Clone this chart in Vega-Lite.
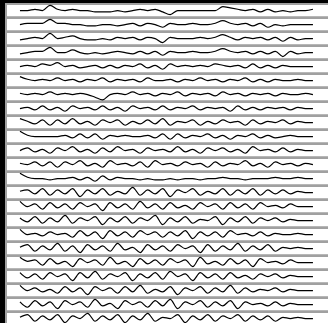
{
"$schema": "https://vega.github.io/schema/vega-lite/v6.json",
"background": "black",
"padding": {"left": 5, "top": 3, "right": 0, "bottom": 0},
"bounds": "flush",
"datasets": {"d": [
{"s":1,"t":0,"v":5},{"s":1,"t":1,"v":5},{"s":1,"t":2,"v":6},{"s":1,"t":3,"v":5},{"s":1,"t":4,"v":9},{"s":1,"t":5,"v":6},{"s":1,"t":6,"v":5},{"s":1,"t":7,"v":6},{"s":1,"t":8,"v":5},{"s":1,"t":9,"v":5},{"s":1,"t":10,"v":4},{"s":1,"t":11,"v":4},{"s":1,"t":12,"v":4},{"s":1,"t":13,"v":5},{"s":1,"t":14,"v":4},{"s":1,"t":15,"v":5},{"s":1,"t":16,"v":6},{"s":1,"t":17,"v":5},{"s":1,"t":18,"v":6},{"s":1,"t":19,"v":4},{"s":1,"t":20,"v":2},{"s":1,"t":21,"v":5},{"s":1,"t":22,"v":5},{"s":1,"t":23,"v":5},{"s":1,"t":24,"v":5},{"s":1,"t":25,"v":5},{"s":1,"t":26,"v":5},{"s":1,"t":27,"v":8},{"s":1,"t":28,"v":7},{"s":1,"t":29,"v":6},{"s":1,"t":30,"v":5},{"s":1,"t":31,"v":6},{"s":1,"t":32,"v":4},{"s":1,"t":33,"v":6},{"s":1,"t":34,"v":4},{"s":1,"t":35,"v":5},{"s":1,"t":36,"v":4},{"s":1,"t":37,"v":5},{"s":1,"t":38,"v":5},{"s":1,"t":39,"v":6},
{"s":2,"t":0,"v":5},{"s":2,"t":1,"v":6},{"s":2,"t":2,"v":6},{"s":2,"t":3,"v":6},{"s":2,"t":4,"v":9},{"s":2,"t":5,"v":6},{"s":2,"t":6,"v":6},{"s":2,"t":7,"v":5},{"s":2,"t":8,"v":5},{"s":2,"t":9,"v":4},{"s":2,"t":10,"v":4},{"s":2,"t":11,"v":5},{"s":2,"t":12,"v":5},{"s":2,"t":13,"v":4},{"s":2,"t":14,"v":5},{"s":2,"t":15,"v":6},{"s":2,"t":16,"v":4},{"s":2,"t":17,"v":6},{"s":2,"t":18,"v":5},{"s":2,"t":19,"v":3},{"s":2,"t":20,"v":6},{"s":2,"t":21,"v":5},{"s":2,"t":22,"v":5},{"s":2,"t":23,"v":6},{"s":2,"t":24,"v":5},{"s":2,"t":25,"v":5},{"s":2,"t":26,"v":6},{"s":2,"t":27,"v":8},{"s":2,"t":28,"v":6},{"s":2,"t":29,"v":5},{"s":2,"t":30,"v":6},{"s":2,"t":31,"v":4},{"s":2,"t":32,"v":6},{"s":2,"t":33,"v":3},{"s":2,"t":34,"v":5},{"s":2,"t":35,"v":4},{"s":2,"t":36,"v":5},{"s":2,"t":37,"v":5},{"s":2,"t":38,"v":5},{"s":2,"t":39,"v":5},
{"s":3,"t":0,"v":4},{"s":3,"t":1,"v":5},{"s":3,"t":2,"v":6},{"s":3,"t":3,"v":5},{"s":3,"t":4,"v":9},{"s":3,"t":5,"v":5},{"s":3,"t":6,"v":6},{"s":3,"t":7,"v":7},{"s":3,"t":8,"v":5},{"s":3,"t":9,"v":4},{"s":3,"t":10,"v":4},{"s":3,"t":11,"v":5},{"s":3,"t":12,"v":4},{"s":3,"t":13,"v":6},{"s":3,"t":14,"v":5},{"s":3,"t":15,"v":6},{"s":3,"t":16,"v":4},{"s":3,"t":17,"v":6},{"s":3,"t":18,"v":5},{"s":3,"t":19,"v":2},{"s":3,"t":20,"v":6},{"s":3,"t":21,"v":5},{"s":3,"t":22,"v":5},{"s":3,"t":23,"v":5},{"s":3,"t":24,"v":6},{"s":3,"t":25,"v":5},{"s":3,"t":26,"v":6},{"s":3,"t":27,"v":8},{"s":3,"t":28,"v":6},{"s":3,"t":29,"v":4},{"s":3,"t":30,"v":6},{"s":3,"t":31,"v":5},{"s":3,"t":32,"v":6},{"s":3,"t":33,"v":4},{"s":3,"t":34,"v":6},{"s":3,"t":35,"v":3},{"s":3,"t":36,"v":6},{"s":3,"t":37,"v":4},{"s":3,"t":38,"v":5},{"s":3,"t":39,"v":5},
{"s":4,"t":0,"v":4},{"s":4,"t":1,"v":5},{"s":4,"t":2,"v":6},{"s":4,"t":3,"v":6},{"s":4,"t":4,"v":9},{"s":4,"t":5,"v":5},{"s":4,"t":6,"v":5},{"s":4,"t":7,"v":7},{"s":4,"t":8,"v":5},{"s":4,"t":9,"v":4},{"s":4,"t":10,"v":5},{"s":4,"t":11,"v":4},{"s":4,"t":12,"v":5},{"s":4,"t":13,"v":6},{"s":4,"t":14,"v":5},{"s":4,"t":15,"v":4},{"s":4,"t":16,"v":6},{"s":4,"t":17,"v":4},{"s":4,"t":18,"v":6},{"s":4,"t":19,"v":3},{"s":4,"t":20,"v":6},{"s":4,"t":21,"v":5},{"s":4,"t":22,"v":5},{"s":4,"t":23,"v":6},{"s":4,"t":24,"v":5},{"s":4,"t":25,"v":5},{"s":4,"t":26,"v":6},{"s":4,"t":27,"v":8},{"s":4,"t":28,"v":6},{"s":4,"t":29,"v":5},{"s":4,"t":30,"v":6},{"s":4,"t":31,"v":4},{"s":4,"t":32,"v":6},{"s":4,"t":33,"v":4},{"s":4,"t":34,"v":6},{"s":4,"t":35,"v":2},{"s":4,"t":36,"v":6},{"s":4,"t":37,"v":4},{"s":4,"t":38,"v":5},{"s":4,"t":39,"v":5},
{"s":5,"t":0,"v":5},{"s":5,"t":1,"v":6},{"s":5,"t":2,"v":5},{"s":5,"t":3,"v":7},{"s":5,"t":4,"v":6},{"s":5,"t":5,"v":8},{"s":5,"t":6,"v":5},{"s":5,"t":7,"v":6},{"s":5,"t":8,"v":4},{"s":5,"t":9,"v":5},{"s":5,"t":10,"v":6},{"s":5,"t":11,"v":4},{"s":5,"t":12,"v":6},{"s":5,"t":13,"v":4},{"s":5,"t":14,"v":6},{"s":5,"t":15,"v":5},{"s":5,"t":16,"v":7},{"s":5,"t":17,"v":4},{"s":5,"t":18,"v":6},{"s":5,"t":19,"v":3},{"s":5,"t":20,"v":7},{"s":5,"t":21,"v":5},{"s":5,"t":22,"v":6},{"s":5,"t":23,"v":5},{"s":5,"t":24,"v":6},{"s":5,"t":25,"v":5},{"s":5,"t":26,"v":7},{"s":5,"t":27,"v":6},{"s":5,"t":28,"v":5},{"s":5,"t":29,"v":6},{"s":5,"t":30,"v":4},{"s":5,"t":31,"v":7},{"s":5,"t":32,"v":4},{"s":5,"t":33,"v":6},{"s":5,"t":34,"v":4},{"s":5,"t":35,"v":6},{"s":5,"t":36,"v":5},{"s":5,"t":37,"v":5},{"s":5,"t":38,"v":5},{"s":5,"t":39,"v":5},
{"s":6,"t":0,"v":8},{"s":6,"t":1,"v":6},{"s":6,"t":2,"v":5},{"s":6,"t":3,"v":6},{"s":6,"t":4,"v":5},{"s":6,"t":5,"v":7},{"s":6,"t":6,"v":5},{"s":6,"t":7,"v":6},{"s":6,"t":8,"v":4},{"s":6,"t":9,"v":6},{"s":6,"t":10,"v":5},{"s":6,"t":11,"v":7},{"s":6,"t":12,"v":4},{"s":6,"t":13,"v":6},{"s":6,"t":14,"v":5},{"s":6,"t":15,"v":6},{"s":6,"t":16,"v":4},{"s":6,"t":17,"v":7},{"s":6,"t":18,"v":5},{"s":6,"t":19,"v":5},{"s":6,"t":20,"v":6},{"s":6,"t":21,"v":4},{"s":6,"t":22,"v":6},{"s":6,"t":23,"v":5},{"s":6,"t":24,"v":7},{"s":6,"t":25,"v":5},{"s":6,"t":26,"v":6},{"s":6,"t":27,"v":4},{"s":6,"t":28,"v":6},{"s":6,"t":29,"v":5},{"s":6,"t":30,"v":7},{"s":6,"t":31,"v":4},{"s":6,"t":32,"v":6},{"s":6,"t":33,"v":4},{"s":6,"t":34,"v":6},{"s":6,"t":35,"v":5},{"s":6,"t":36,"v":5},{"s":6,"t":37,"v":6},{"s":6,"t":38,"v":5},{"s":6,"t":39,"v":5},
{"s":7,"t":0,"v":6},{"s":7,"t":1,"v":5},{"s":7,"t":2,"v":6},{"s":7,"t":3,"v":5},{"s":7,"t":4,"v":7},{"s":7,"t":5,"v":5},{"s":7,"t":6,"v":6},{"s":7,"t":7,"v":5},{"s":7,"t":8,"v":6},{"s":7,"t":9,"v":5},{"s":7,"t":10,"v":3},{"s":7,"t":11,"v":1},{"s":7,"t":12,"v":5},{"s":7,"t":13,"v":6},{"s":7,"t":14,"v":5},{"s":7,"t":15,"v":7},{"s":7,"t":16,"v":5},{"s":7,"t":17,"v":6},{"s":7,"t":18,"v":4},{"s":7,"t":19,"v":6},{"s":7,"t":20,"v":5},{"s":7,"t":21,"v":7},{"s":7,"t":22,"v":4},{"s":7,"t":23,"v":6},{"s":7,"t":24,"v":5},{"s":7,"t":25,"v":6},{"s":7,"t":26,"v":4},{"s":7,"t":27,"v":7},{"s":7,"t":28,"v":5},{"s":7,"t":29,"v":6},{"s":7,"t":30,"v":4},{"s":7,"t":31,"v":6},{"s":7,"t":32,"v":5},{"s":7,"t":33,"v":6},{"s":7,"t":34,"v":4},{"s":7,"t":35,"v":6},{"s":7,"t":36,"v":5},{"s":7,"t":37,"v":5},{"s":7,"t":38,"v":6},{"s":7,"t":39,"v":5},
{"s":8,"t":0,"v":5},{"s":8,"t":1,"v":6},{"s":8,"t":2,"v":4},{"s":8,"t":3,"v":7},{"s":8,"t":4,"v":4},{"s":8,"t":5,"v":6},{"s":8,"t":6,"v":3},{"s":8,"t":7,"v":7},{"s":8,"t":8,"v":5},{"s":8,"t":9,"v":6},{"s":8,"t":10,"v":4},{"s":8,"t":11,"v":7},{"s":8,"t":12,"v":4},{"s":8,"t":13,"v":6},{"s":8,"t":14,"v":3},{"s":8,"t":15,"v":7},{"s":8,"t":16,"v":5},{"s":8,"t":17,"v":6},{"s":8,"t":18,"v":4},{"s":8,"t":19,"v":7},{"s":8,"t":20,"v":4},{"s":8,"t":21,"v":6},{"s":8,"t":22,"v":5},{"s":8,"t":23,"v":7},{"s":8,"t":24,"v":4},{"s":8,"t":25,"v":6},{"s":8,"t":26,"v":5},{"s":8,"t":27,"v":6},{"s":8,"t":28,"v":3},{"s":8,"t":29,"v":7},{"s":8,"t":30,"v":4},{"s":8,"t":31,"v":6},{"s":8,"t":32,"v":4},{"s":8,"t":33,"v":6},{"s":8,"t":34,"v":5},{"s":8,"t":35,"v":6},{"s":8,"t":36,"v":4},{"s":8,"t":37,"v":6},{"s":8,"t":38,"v":5},{"s":8,"t":39,"v":5},
{"s":9,"t":0,"v":8},{"s":9,"t":1,"v":6},{"s":9,"t":2,"v":4},{"s":9,"t":3,"v":7},{"s":9,"t":4,"v":3},{"s":9,"t":5,"v":7},{"s":9,"t":6,"v":4},{"s":9,"t":7,"v":8},{"s":9,"t":8,"v":4},{"s":9,"t":9,"v":6},{"s":9,"t":10,"v":3},{"s":9,"t":11,"v":7},{"s":9,"t":12,"v":5},{"s":9,"t":13,"v":7},{"s":9,"t":14,"v":3},{"s":9,"t":15,"v":6},{"s":9,"t":16,"v":4},{"s":9,"t":17,"v":7},{"s":9,"t":18,"v":4},{"s":9,"t":19,"v":8},{"s":9,"t":20,"v":3},{"s":9,"t":21,"v":6},{"s":9,"t":22,"v":5},{"s":9,"t":23,"v":7},{"s":9,"t":24,"v":3},{"s":9,"t":25,"v":6},{"s":9,"t":26,"v":4},{"s":9,"t":27,"v":7},{"s":9,"t":28,"v":5},{"s":9,"t":29,"v":6},{"s":9,"t":30,"v":3},{"s":9,"t":31,"v":7},{"s":9,"t":32,"v":4},{"s":9,"t":33,"v":6},{"s":9,"t":34,"v":5},{"s":9,"t":35,"v":7},{"s":9,"t":36,"v":4},{"s":9,"t":37,"v":6},{"s":9,"t":38,"v":5},{"s":9,"t":39,"v":5},
{"s":10,"t":0,"v":9},{"s":10,"t":1,"v":6},{"s":10,"t":2,"v":5},{"s":10,"t":3,"v":5},{"s":10,"t":4,"v":5},{"s":10,"t":5,"v":5},{"s":10,"t":6,"v":6},{"s":10,"t":7,"v":4},{"s":10,"t":8,"v":7},{"s":10,"t":9,"v":4},{"s":10,"t":10,"v":7},{"s":10,"t":11,"v":3},{"s":10,"t":12,"v":6},{"s":10,"t":13,"v":5},{"s":10,"t":14,"v":6},{"s":10,"t":15,"v":5},{"s":10,"t":16,"v":5},{"s":10,"t":17,"v":6},{"s":10,"t":18,"v":4},{"s":10,"t":19,"v":7},{"s":10,"t":20,"v":3},{"s":10,"t":21,"v":7},{"s":10,"t":22,"v":4},{"s":10,"t":23,"v":6},{"s":10,"t":24,"v":5},{"s":10,"t":25,"v":7},{"s":10,"t":26,"v":4},{"s":10,"t":27,"v":6},{"s":10,"t":28,"v":3},{"s":10,"t":29,"v":6},{"s":10,"t":30,"v":5},{"s":10,"t":31,"v":7},{"s":10,"t":32,"v":4},{"s":10,"t":33,"v":6},{"s":10,"t":34,"v":4},{"s":10,"t":35,"v":5},{"s":10,"t":36,"v":6},{"s":10,"t":37,"v":5},{"s":10,"t":38,"v":5},{"s":10,"t":39,"v":5},
{"s":11,"t":0,"v":5},{"s":11,"t":1,"v":7},{"s":11,"t":2,"v":4},{"s":11,"t":3,"v":6},{"s":11,"t":4,"v":3},{"s":11,"t":5,"v":7},{"s":11,"t":6,"v":5},{"s":11,"t":7,"v":8},{"s":11,"t":8,"v":4},{"s":11,"t":9,"v":6},{"s":11,"t":10,"v":3},{"s":11,"t":11,"v":7},{"s":11,"t":12,"v":4},{"s":11,"t":13,"v":8},{"s":11,"t":14,"v":5},{"s":11,"t":15,"v":6},{"s":11,"t":16,"v":3},{"s":11,"t":17,"v":7},{"s":11,"t":18,"v":5},{"s":11,"t":19,"v":6},{"s":11,"t":20,"v":4},{"s":11,"t":21,"v":8},{"s":11,"t":22,"v":4},{"s":11,"t":23,"v":6},{"s":11,"t":24,"v":3},{"s":11,"t":25,"v":7},{"s":11,"t":26,"v":5},{"s":11,"t":27,"v":7},{"s":11,"t":28,"v":4},{"s":11,"t":29,"v":6},{"s":11,"t":30,"v":3},{"s":11,"t":31,"v":8},{"s":11,"t":32,"v":5},{"s":11,"t":33,"v":6},{"s":11,"t":34,"v":4},{"s":11,"t":35,"v":7},{"s":11,"t":36,"v":4},{"s":11,"t":37,"v":6},{"s":11,"t":38,"v":5},{"s":11,"t":39,"v":5},
{"s":12,"t":0,"v":6},{"s":12,"t":1,"v":5},{"s":12,"t":2,"v":7},{"s":12,"t":3,"v":4},{"s":12,"t":4,"v":7},{"s":12,"t":5,"v":3},{"s":12,"t":6,"v":7},{"s":12,"t":7,"v":5},{"s":12,"t":8,"v":8},{"s":12,"t":9,"v":4},{"s":12,"t":10,"v":6},{"s":12,"t":11,"v":3},{"s":12,"t":12,"v":8},{"s":12,"t":13,"v":5},{"s":12,"t":14,"v":6},{"s":12,"t":15,"v":4},{"s":12,"t":16,"v":7},{"s":12,"t":17,"v":3},{"s":12,"t":18,"v":8},{"s":12,"t":19,"v":5},{"s":12,"t":20,"v":6},{"s":12,"t":21,"v":4},{"s":12,"t":22,"v":7},{"s":12,"t":23,"v":5},{"s":12,"t":24,"v":6},{"s":12,"t":25,"v":3},{"s":12,"t":26,"v":7},{"s":12,"t":27,"v":4},{"s":12,"t":28,"v":6},{"s":12,"t":29,"v":5},{"s":12,"t":30,"v":8},{"s":12,"t":31,"v":4},{"s":12,"t":32,"v":6},{"s":12,"t":33,"v":3},{"s":12,"t":34,"v":7},{"s":12,"t":35,"v":5},{"s":12,"t":36,"v":6},{"s":12,"t":37,"v":4},{"s":12,"t":38,"v":6},{"s":12,"t":39,"v":5},
{"s":13,"t":0,"v":9},{"s":13,"t":1,"v":6},{"s":13,"t":2,"v":5},{"s":13,"t":3,"v":5},{"s":13,"t":4,"v":4},{"s":13,"t":5,"v":5},{"s":13,"t":6,"v":5},{"s":13,"t":7,"v":6},{"s":13,"t":8,"v":4},{"s":13,"t":9,"v":6},{"s":13,"t":10,"v":3},{"s":13,"t":11,"v":7},{"s":13,"t":12,"v":4},{"s":13,"t":13,"v":6},{"s":13,"t":14,"v":5},{"s":13,"t":15,"v":5},{"s":13,"t":16,"v":4},{"s":13,"t":17,"v":5},{"s":13,"t":18,"v":4},{"s":13,"t":19,"v":4},{"s":13,"t":20,"v":5},{"s":13,"t":21,"v":4},{"s":13,"t":22,"v":5},{"s":13,"t":23,"v":5},{"s":13,"t":24,"v":4},{"s":13,"t":25,"v":5},{"s":13,"t":26,"v":5},{"s":13,"t":27,"v":6},{"s":13,"t":28,"v":5},{"s":13,"t":29,"v":5},{"s":13,"t":30,"v":4},{"s":13,"t":31,"v":5},{"s":13,"t":32,"v":5},{"s":13,"t":33,"v":5},{"s":13,"t":34,"v":6},{"s":13,"t":35,"v":5},{"s":13,"t":36,"v":5},{"s":13,"t":37,"v":6},{"s":13,"t":38,"v":5},{"s":13,"t":39,"v":5},
{"s":14,"t":0,"v":6},{"s":14,"t":1,"v":7},{"s":14,"t":2,"v":4},{"s":14,"t":3,"v":8},{"s":14,"t":4,"v":3},{"s":14,"t":5,"v":7},{"s":14,"t":6,"v":4},{"s":14,"t":7,"v":8},{"s":14,"t":8,"v":2},{"s":14,"t":9,"v":7},{"s":14,"t":10,"v":4},{"s":14,"t":11,"v":8},{"s":14,"t":12,"v":3},{"s":14,"t":13,"v":6},{"s":14,"t":14,"v":4},{"s":14,"t":15,"v":9},{"s":14,"t":16,"v":3},{"s":14,"t":17,"v":7},{"s":14,"t":18,"v":4},{"s":14,"t":19,"v":8},{"s":14,"t":20,"v":2},{"s":14,"t":21,"v":7},{"s":14,"t":22,"v":5},{"s":14,"t":23,"v":8},{"s":14,"t":24,"v":3},{"s":14,"t":25,"v":6},{"s":14,"t":26,"v":4},{"s":14,"t":27,"v":8},{"s":14,"t":28,"v":3},{"s":14,"t":29,"v":7},{"s":14,"t":30,"v":4},{"s":14,"t":31,"v":8},{"s":14,"t":32,"v":3},{"s":14,"t":33,"v":7},{"s":14,"t":34,"v":4},{"s":14,"t":35,"v":7},{"s":14,"t":36,"v":4},{"s":14,"t":37,"v":6},{"s":14,"t":38,"v":5},{"s":14,"t":39,"v":5},
{"s":15,"t":0,"v":9},{"s":15,"t":1,"v":5},{"s":15,"t":2,"v":7},{"s":15,"t":3,"v":3},{"s":15,"t":4,"v":8},{"s":15,"t":5,"v":4},{"s":15,"t":6,"v":7},{"s":15,"t":7,"v":3},{"s":15,"t":8,"v":8},{"s":15,"t":9,"v":5},{"s":15,"t":10,"v":7},{"s":15,"t":11,"v":2},{"s":15,"t":12,"v":8},{"s":15,"t":13,"v":4},{"s":15,"t":14,"v":7},{"s":15,"t":15,"v":3},{"s":15,"t":16,"v":9},{"s":15,"t":17,"v":4},{"s":15,"t":18,"v":7},{"s":15,"t":19,"v":3},{"s":15,"t":20,"v":8},{"s":15,"t":21,"v":4},{"s":15,"t":22,"v":6},{"s":15,"t":23,"v":3},{"s":15,"t":24,"v":8},{"s":15,"t":25,"v":5},{"s":15,"t":26,"v":7},{"s":15,"t":27,"v":3},{"s":15,"t":28,"v":8},{"s":15,"t":29,"v":4},{"s":15,"t":30,"v":7},{"s":15,"t":31,"v":3},{"s":15,"t":32,"v":8},{"s":15,"t":33,"v":5},{"s":15,"t":34,"v":6},{"s":15,"t":35,"v":4},{"s":15,"t":36,"v":7},{"s":15,"t":37,"v":5},{"s":15,"t":38,"v":5},{"s":15,"t":39,"v":5},
{"s":16,"t":0,"v":7},{"s":16,"t":1,"v":4},{"s":16,"t":2,"v":8},{"s":16,"t":3,"v":3},{"s":16,"t":4,"v":7},{"s":16,"t":5,"v":4},{"s":16,"t":6,"v":9},{"s":16,"t":7,"v":3},{"s":16,"t":8,"v":7},{"s":16,"t":9,"v":5},{"s":16,"t":10,"v":8},{"s":16,"t":11,"v":2},{"s":16,"t":12,"v":7},{"s":16,"t":13,"v":4},{"s":16,"t":14,"v":8},{"s":16,"t":15,"v":3},{"s":16,"t":16,"v":7},{"s":16,"t":17,"v":5},{"s":16,"t":18,"v":9},{"s":16,"t":19,"v":2},{"s":16,"t":20,"v":7},{"s":16,"t":21,"v":4},{"s":16,"t":22,"v":8},{"s":16,"t":23,"v":3},{"s":16,"t":24,"v":6},{"s":16,"t":25,"v":5},{"s":16,"t":26,"v":8},{"s":16,"t":27,"v":2},{"s":16,"t":28,"v":7},{"s":16,"t":29,"v":4},{"s":16,"t":30,"v":8},{"s":16,"t":31,"v":3},{"s":16,"t":32,"v":7},{"s":16,"t":33,"v":5},{"s":16,"t":34,"v":7},{"s":16,"t":35,"v":4},{"s":16,"t":36,"v":6},{"s":16,"t":37,"v":5},{"s":16,"t":38,"v":5},{"s":16,"t":39,"v":5},
{"s":17,"t":0,"v":9},{"s":17,"t":1,"v":5},{"s":17,"t":2,"v":6},{"s":17,"t":3,"v":4},{"s":17,"t":4,"v":7},{"s":17,"t":5,"v":5},{"s":17,"t":6,"v":6},{"s":17,"t":7,"v":3},{"s":17,"t":8,"v":8},{"s":17,"t":9,"v":4},{"s":17,"t":10,"v":7},{"s":17,"t":11,"v":2},{"s":17,"t":12,"v":8},{"s":17,"t":13,"v":4},{"s":17,"t":14,"v":7},{"s":17,"t":15,"v":3},{"s":17,"t":16,"v":8},{"s":17,"t":17,"v":5},{"s":17,"t":18,"v":7},{"s":17,"t":19,"v":3},{"s":17,"t":20,"v":7},{"s":17,"t":21,"v":4},{"s":17,"t":22,"v":8},{"s":17,"t":23,"v":2},{"s":17,"t":24,"v":7},{"s":17,"t":25,"v":4},{"s":17,"t":26,"v":7},{"s":17,"t":27,"v":3},{"s":17,"t":28,"v":8},{"s":17,"t":29,"v":5},{"s":17,"t":30,"v":6},{"s":17,"t":31,"v":4},{"s":17,"t":32,"v":7},{"s":17,"t":33,"v":4},{"s":17,"t":34,"v":6},{"s":17,"t":35,"v":5},{"s":17,"t":36,"v":5},{"s":17,"t":37,"v":6},{"s":17,"t":38,"v":5},{"s":17,"t":39,"v":5},
{"s":18,"t":0,"v":6},{"s":18,"t":1,"v":8},{"s":18,"t":2,"v":3},{"s":18,"t":3,"v":7},{"s":18,"t":4,"v":4},{"s":18,"t":5,"v":9},{"s":18,"t":6,"v":3},{"s":18,"t":7,"v":7},{"s":18,"t":8,"v":2},{"s":18,"t":9,"v":8},{"s":18,"t":10,"v":4},{"s":18,"t":11,"v":7},{"s":18,"t":12,"v":3},{"s":18,"t":13,"v":9},{"s":18,"t":14,"v":4},{"s":18,"t":15,"v":6},{"s":18,"t":16,"v":2},{"s":18,"t":17,"v":8},{"s":18,"t":18,"v":4},{"s":18,"t":19,"v":7},{"s":18,"t":20,"v":3},{"s":18,"t":21,"v":8},{"s":18,"t":22,"v":5},{"s":18,"t":23,"v":7},{"s":18,"t":24,"v":2},{"s":18,"t":25,"v":8},{"s":18,"t":26,"v":3},{"s":18,"t":27,"v":7},{"s":18,"t":28,"v":4},{"s":18,"t":29,"v":9},{"s":18,"t":30,"v":3},{"s":18,"t":31,"v":7},{"s":18,"t":32,"v":4},{"s":18,"t":33,"v":8},{"s":18,"t":34,"v":3},{"s":18,"t":35,"v":6},{"s":18,"t":36,"v":5},{"s":18,"t":37,"v":6},{"s":18,"t":38,"v":5},{"s":18,"t":39,"v":5},
{"s":19,"t":0,"v":9},{"s":19,"t":1,"v":6},{"s":19,"t":2,"v":7},{"s":19,"t":3,"v":3},{"s":19,"t":4,"v":8},{"s":19,"t":5,"v":4},{"s":19,"t":6,"v":6},{"s":19,"t":7,"v":2},{"s":19,"t":8,"v":8},{"s":19,"t":9,"v":5},{"s":19,"t":10,"v":7},{"s":19,"t":11,"v":3},{"s":19,"t":12,"v":9},{"s":19,"t":13,"v":4},{"s":19,"t":14,"v":6},{"s":19,"t":15,"v":2},{"s":19,"t":16,"v":8},{"s":19,"t":17,"v":4},{"s":19,"t":18,"v":7},{"s":19,"t":19,"v":3},{"s":19,"t":20,"v":8},{"s":19,"t":21,"v":5},{"s":19,"t":22,"v":7},{"s":19,"t":23,"v":2},{"s":19,"t":24,"v":9},{"s":19,"t":25,"v":4},{"s":19,"t":26,"v":6},{"s":19,"t":27,"v":3},{"s":19,"t":28,"v":8},{"s":19,"t":29,"v":4},{"s":19,"t":30,"v":7},{"s":19,"t":31,"v":2},{"s":19,"t":32,"v":8},{"s":19,"t":33,"v":5},{"s":19,"t":34,"v":6},{"s":19,"t":35,"v":4},{"s":19,"t":36,"v":7},{"s":19,"t":37,"v":5},{"s":19,"t":38,"v":5},{"s":19,"t":39,"v":5},
{"s":20,"t":0,"v":8},{"s":20,"t":1,"v":4},{"s":20,"t":2,"v":7},{"s":20,"t":3,"v":3},{"s":20,"t":4,"v":8},{"s":20,"t":5,"v":5},{"s":20,"t":6,"v":7},{"s":20,"t":7,"v":2},{"s":20,"t":8,"v":8},{"s":20,"t":9,"v":4},{"s":20,"t":10,"v":9},{"s":20,"t":11,"v":3},{"s":20,"t":12,"v":7},{"s":20,"t":13,"v":5},{"s":20,"t":14,"v":8},{"s":20,"t":15,"v":2},{"s":20,"t":16,"v":7},{"s":20,"t":17,"v":4},{"s":20,"t":18,"v":8},{"s":20,"t":19,"v":3},{"s":20,"t":20,"v":9},{"s":20,"t":21,"v":5},{"s":20,"t":22,"v":7},{"s":20,"t":23,"v":2},{"s":20,"t":24,"v":8},{"s":20,"t":25,"v":4},{"s":20,"t":26,"v":7},{"s":20,"t":27,"v":3},{"s":20,"t":28,"v":8},{"s":20,"t":29,"v":4},{"s":20,"t":30,"v":6},{"s":20,"t":31,"v":3},{"s":20,"t":32,"v":7},{"s":20,"t":33,"v":5},{"s":20,"t":34,"v":7},{"s":20,"t":35,"v":4},{"s":20,"t":36,"v":6},{"s":20,"t":37,"v":5},{"s":20,"t":38,"v":5},{"s":20,"t":39,"v":5},
{"s":21,"t":0,"v":9},{"s":21,"t":1,"v":5},{"s":21,"t":2,"v":7},{"s":21,"t":3,"v":4},{"s":21,"t":4,"v":6},{"s":21,"t":5,"v":3},{"s":21,"t":6,"v":8},{"s":21,"t":7,"v":4},{"s":21,"t":8,"v":7},{"s":21,"t":9,"v":2},{"s":21,"t":10,"v":8},{"s":21,"t":11,"v":5},{"s":21,"t":12,"v":7},{"s":21,"t":13,"v":3},{"s":21,"t":14,"v":8},{"s":21,"t":15,"v":4},{"s":21,"t":16,"v":9},{"s":21,"t":17,"v":3},{"s":21,"t":18,"v":6},{"s":21,"t":19,"v":4},{"s":21,"t":20,"v":8},{"s":21,"t":21,"v":2},{"s":21,"t":22,"v":7},{"s":21,"t":23,"v":5},{"s":21,"t":24,"v":8},{"s":21,"t":25,"v":3},{"s":21,"t":26,"v":7},{"s":21,"t":27,"v":4},{"s":21,"t":28,"v":9},{"s":21,"t":29,"v":3},{"s":21,"t":30,"v":7},{"s":21,"t":31,"v":4},{"s":21,"t":32,"v":6},{"s":21,"t":33,"v":5},{"s":21,"t":34,"v":7},{"s":21,"t":35,"v":4},{"s":21,"t":36,"v":6},{"s":21,"t":37,"v":5},{"s":21,"t":38,"v":5},{"s":21,"t":39,"v":5},
{"s":22,"t":0,"v":7},{"s":22,"t":1,"v":3},{"s":22,"t":2,"v":8},{"s":22,"t":3,"v":4},{"s":22,"t":4,"v":7},{"s":22,"t":5,"v":2},{"s":22,"t":6,"v":8},{"s":22,"t":7,"v":5},{"s":22,"t":8,"v":7},{"s":22,"t":9,"v":3},{"s":22,"t":10,"v":9},{"s":22,"t":11,"v":4},{"s":22,"t":12,"v":6},{"s":22,"t":13,"v":2},{"s":22,"t":14,"v":8},{"s":22,"t":15,"v":5},{"s":22,"t":16,"v":7},{"s":22,"t":17,"v":3},{"s":22,"t":18,"v":8},{"s":22,"t":19,"v":4},{"s":22,"t":20,"v":9},{"s":22,"t":21,"v":2},{"s":22,"t":22,"v":7},{"s":22,"t":23,"v":5},{"s":22,"t":24,"v":8},{"s":22,"t":25,"v":3},{"s":22,"t":26,"v":7},{"s":22,"t":27,"v":4},{"s":22,"t":28,"v":8},{"s":22,"t":29,"v":2},{"s":22,"t":30,"v":7},{"s":22,"t":31,"v":5},{"s":22,"t":32,"v":6},{"s":22,"t":33,"v":4},{"s":22,"t":34,"v":7},{"s":22,"t":35,"v":4},{"s":22,"t":36,"v":6},{"s":22,"t":37,"v":5},{"s":22,"t":38,"v":5},{"s":22,"t":39,"v":5},
{"s":23,"t":0,"v":6},{"s":23,"t":1,"v":8},{"s":23,"t":2,"v":3},{"s":23,"t":3,"v":7},{"s":23,"t":4,"v":4},{"s":23,"t":5,"v":8},{"s":23,"t":6,"v":2},{"s":23,"t":7,"v":7},{"s":23,"t":8,"v":5},{"s":23,"t":9,"v":9},{"s":23,"t":10,"v":3},{"s":23,"t":11,"v":7},{"s":23,"t":12,"v":4},{"s":23,"t":13,"v":8},{"s":23,"t":14,"v":2},{"s":23,"t":15,"v":7},{"s":23,"t":16,"v":4},{"s":23,"t":17,"v":9},{"s":23,"t":18,"v":3},{"s":23,"t":19,"v":6},{"s":23,"t":20,"v":5},{"s":23,"t":21,"v":8},{"s":23,"t":22,"v":2},{"s":23,"t":23,"v":7},{"s":23,"t":24,"v":4},{"s":23,"t":25,"v":8},{"s":23,"t":26,"v":3},{"s":23,"t":27,"v":7},{"s":23,"t":28,"v":5},{"s":23,"t":29,"v":8},{"s":23,"t":30,"v":3},{"s":23,"t":31,"v":7},{"s":23,"t":32,"v":4},{"s":23,"t":33,"v":7},{"s":23,"t":34,"v":3},{"s":23,"t":35,"v":6},{"s":23,"t":36,"v":5},{"s":23,"t":37,"v":6},{"s":23,"t":38,"v":5},{"s":23,"t":39,"v":5},
{"s":24,"t":0,"v":9},{"s":24,"t":1,"v":6},{"s":24,"t":2,"v":5},{"s":24,"t":3,"v":4},{"s":24,"t":4,"v":5},{"s":24,"t":5,"v":4},{"s":24,"t":6,"v":5},{"s":24,"t":7,"v":5},{"s":24,"t":8,"v":4},{"s":24,"t":9,"v":5},{"s":24,"t":10,"v":5},{"s":24,"t":11,"v":4},{"s":24,"t":12,"v":5},{"s":24,"t":13,"v":4},{"s":24,"t":14,"v":5},{"s":24,"t":15,"v":5},{"s":24,"t":16,"v":4},{"s":24,"t":17,"v":5},{"s":24,"t":18,"v":4},{"s":24,"t":19,"v":5},{"s":24,"t":20,"v":4},{"s":24,"t":21,"v":5},{"s":24,"t":22,"v":5},{"s":24,"t":23,"v":4},{"s":24,"t":24,"v":4},{"s":24,"t":25,"v":3},{"s":24,"t":26,"v":4},{"s":24,"t":27,"v":5},{"s":24,"t":28,"v":7},{"s":24,"t":29,"v":3},{"s":24,"t":30,"v":6},{"s":24,"t":31,"v":8},{"s":24,"t":32,"v":4},{"s":24,"t":33,"v":7},{"s":24,"t":34,"v":5},{"s":24,"t":35,"v":6},{"s":24,"t":36,"v":4},{"s":24,"t":37,"v":6},{"s":24,"t":38,"v":5},{"s":24,"t":39,"v":5}
]},
"data": {"name": "d"},
"facet": {"row": {"field": "s", "type": "ordinal", "header": null}},
"spacing": 0,
"spec": {
  "width": 330,
  "height": 13.2,
  "mark": {"type": "line", "color": "black", "strokeWidth": 1.2, "interpolate": "monotone", "clip": true},
  "encoding": {
    "x": {"field": "t", "type": "quantitative", "axis": null, "scale": {"domain": [-1.86, 42.07], "nice": false, "zero": false}},
    "y": {"field": "v", "type": "quantitative", "axis": null, "scale": {"domain": [0, 10], "nice": false, "zero": false}}
  }
},
"config": {"view": {"stroke": "#a0a0a0", "strokeWidth": 2, "fill": "white"}}
}
